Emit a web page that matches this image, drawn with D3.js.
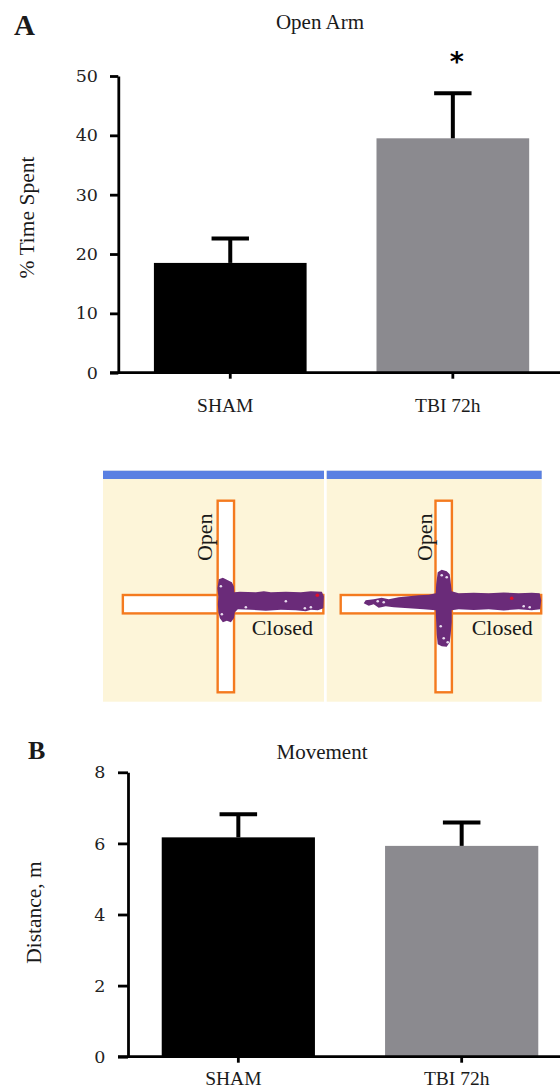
<!DOCTYPE html>
<html>
<head>
<meta charset="utf-8">
<script src="https://cdn.jsdelivr.net/npm/d3@7"></script>
<style>
  body { margin: 0; background: #fff; }
  svg { display: block; }
  .word { font-family: "Liberation Serif", "Times New Roman", serif; fill: #1a1a1a; }
  .num { font-family: "DejaVu Serif", serif; fill: #222; }
</style>
</head>
<body>
<svg id="fig" width="560" height="1091"></svg>
<script>
// ---- data ----
const groups = ["SHAM", "TBI 72h"];
const barColors = ["#000000", "#8b8a8f"];

const openArmMean = [18.5, 39.5];
const openArmSem = [4.1, 7.6];
const openArmTicks = [0, 10, 20, 30, 40, 50];

const distanceMean = [6.17, 5.93];
const distanceSem = [0.65, 0.66];
const distanceTicks = [0, 2, 4, 6, 8];

// maze arms (maze units, centre of the cross = 0, y grows downward)
const openArmBox = { x: [-8.2, 8.2], y: [-103.5, 88.1] };
const closedArmBox = { x: [-103, 97.5], y: [-9.2, 9.2] };

// tracked positions outlined as polygons (maze units)
const shamTrack = [[-7,-25],[-3,-26.5],[2,-24],[6,-22],[8,-18],[8.5,-12],[14,-12.5],[30,-12],[38,-13],[45,-12],[60,-12.5],
  [75,-12],[85,-13],[96,-12.5],[98,-8],[97.5,4],[92,6],[85,5.5],[80,7],[70,6],[55,5.5],[40,6.5],[25,5.5],[12,5],
  [9,8],[8,14],[5,18],[1,16.5],[-3,18],[-6,14],[-7.5,8],[-8,0],[-7.5,-8],[-8.5,-16],[-7,-25]];
const tbiTrack = [[-6,-32],[-2,-34.5],[3,-33],[6,-30],[7,-22],[8,-13],[15,-11],[30,-11.5],[45,-11],[60,-11.8],[75,-11],
  [88,-11.5],[96,-11],[97.5,-4],[96.5,5],[88,6],[75,5],[60,6.2],[45,5],[30,5.8],[15,5],[8,6],[8,18],[7,30],[6,38],
  [3,42.5],[-2,42],[-6,40],[-7,30],[-7.5,18],[-8,6],[-20,5],[-35,4],[-50,3],[-58,2],[-65,3.5],[-70,0],[-75,1.5],
  [-80,-1],[-78,-4],[-70,-5],[-62,-6.5],[-55,-5],[-45,-7],[-35,-8],[-25,-9],[-15,-9.5],[-8,-11],[-7.5,-20],[-6,-32]];
const shamSpecks = [[-5,-18],[20,3],[85,3],[79,4],[60,-3],[-4,10]];
const tbiSpecks = [[-2,-29],[3,-27],[0,34],[4,38],[-60,-2],[-66,-3],[80,2],[86,3],[-3,22]];
const shamRed = [91.5, -9];
const tbiRed = [68, -6];

const svg = d3.select("#fig");

function barPanel(cfg) {
  const g = svg.append("g");
  const y = d3.scaleLinear().domain([0, cfg.ticks[cfg.ticks.length - 1]]).range([cfg.bottom, cfg.top]);
  const x = d3.scaleBand().domain(groups).range([cfg.left, cfg.right])
    .paddingInner(0.314).paddingOuter(cfg.outer);

  // bars
  g.selectAll("rect.bar").data(groups).enter().append("rect")
    .attr("class", "bar")
    .attr("x", d => x(d))
    .attr("width", x.bandwidth())
    .attr("y", (d, i) => y(cfg.mean[i]))
    .attr("height", (d, i) => y(0) - y(cfg.mean[i]))
    .attr("fill", (d, i) => barColors[i]);

  // error bars (upper only)
  const capW = x.bandwidth() * 0.245;
  const eb = g.selectAll("g.err").data(groups).enter().append("g").attr("class", "err")
    .attr("stroke", "#000").attr("stroke-width", 4);
  eb.append("line")
    .attr("x1", d => x(d) + x.bandwidth() / 2).attr("x2", d => x(d) + x.bandwidth() / 2)
    .attr("y1", (d, i) => y(cfg.mean[i])).attr("y2", (d, i) => y(cfg.mean[i] + cfg.sem[i]));
  eb.append("line")
    .attr("x1", d => x(d) + x.bandwidth() / 2 - capW / 2).attr("x2", d => x(d) + x.bandwidth() / 2 + capW / 2)
    .attr("y1", (d, i) => y(cfg.mean[i] + cfg.sem[i])).attr("y2", (d, i) => y(cfg.mean[i] + cfg.sem[i]));

  // y axis
  const ya = g.append("g").attr("transform", `translate(${cfg.left},0)`)
    .call(d3.axisLeft(y).tickValues(cfg.ticks).tickSize(cfg.tick).tickSizeOuter(0).tickPadding(cfg.pad));
  ya.select(".domain").attr("stroke-width", 2.8);
  ya.selectAll(".tick line").attr("stroke-width", 2.8);
  ya.selectAll(".tick text").attr("class", "num").attr("font-size", 17.5).attr("fill", "#222");

  // x axis
  const xa = g.append("g").attr("transform", `translate(0,${y(0)})`)
    .call(d3.axisBottom(x).tickSize(6));
  xa.select(".domain").remove();
  xa.append("line").attr("x1", cfg.left - cfg.tick).attr("x2", 560).attr("stroke", "#000").attr("stroke-width", 2.8);
  xa.selectAll(".tick line").attr("stroke-width", 2.8);
  xa.selectAll(".tick text").attr("class", "word").attr("font-size", 19.5)
    .attr("y", cfg.labelY).attr("dy", 0).attr("dx", -5).attr("fill", "#1a1a1a");

  // titles
  g.append("text").attr("class", "word").attr("x", cfg.titleX).attr("y", cfg.titleY)
    .attr("text-anchor", "middle").attr("font-size", 21).text(cfg.title);
  g.append("text").attr("class", "word").attr("x", cfg.letterX).attr("y", cfg.letterY)
    .attr("font-size", cfg.letterSize).attr("font-weight", "bold").attr("fill", "#000").text(cfg.letter);
  g.append("text").attr("class", "word")
    .attr("transform", `translate(${cfg.ylabX},${cfg.ylabY}) rotate(-90)`)
    .attr("text-anchor", "middle").attr("font-size", 21.5).text(cfg.ylabel);
  return { x, y, g };
}

const A = barPanel({
  top: 76, bottom: 372.7, left: 118.3, right: 564.8, outer: 0.16, tick: 8.3, pad: 12,
  ticks: openArmTicks, mean: openArmMean, sem: openArmSem, labelY: 39,
  title: "Open Arm", titleX: 320, titleY: 28.5,
  letter: "A", letterX: 14, letterY: 35, letterSize: 29,
  ylabel: "% Time Spent", ylabX: 33.5, ylabY: 217.5
});
// significance star over TBI
A.g.append("text")
  .attr("x", A.x("TBI 72h") + A.x.bandwidth() / 2 + 4)
  .attr("y", A.y(openArmMean[1] + openArmSem[1]) - 22)
  .attr("text-anchor", "middle").attr("font-family", "DejaVu Sans").attr("font-weight", "bold")
  .attr("font-size", 27).attr("fill", "#000").text("*");

barPanel({
  top: 772.3, bottom: 1056.7, left: 128, right: 572, outer: 0.151, tick: 10, pad: 12.5,
  ticks: distanceTicks, mean: distanceMean, sem: distanceSem, labelY: 28.3,
  title: "Movement", titleX: 322, titleY: 759.3,
  letter: "B", letterX: 28, letterY: 759, letterSize: 26,
  ylabel: "Distance, m", ylabX: 41, ylabY: 912.5
});

// ---- elevated plus maze tracking images ----
const mazePanels = [
  { x0: 103, x1: 324, cx: 225.85, track: shamTrack, specks: shamSpecks, red: shamRed, openDx: -14.2, closedDx: 26 },
  { x0: 326.7, x1: 541.7, cx: 443.7, track: tbiTrack, specks: tbiSpecks, red: tbiRed, openDx: -12, closedDx: 28 }
];
const mazeTop = 470.7, mazeBottom = 701.7, mazeCy = 604.2;

mazePanels.forEach(p => {
  const mx = d3.scaleLinear().domain([-100, 100]).range([p.cx - 100, p.cx + 100]);
  const my = d3.scaleLinear().domain([-100, 100]).range([mazeCy - 100, mazeCy + 100]);
  const g = svg.append("g");
  g.append("rect").attr("x", p.x0).attr("y", mazeTop).attr("width", p.x1 - p.x0)
    .attr("height", mazeBottom - mazeTop).attr("fill", "#fdf5d9");
  g.append("rect").attr("x", p.x0).attr("y", mazeTop).attr("width", p.x1 - p.x0)
    .attr("height", 8.3).attr("fill", "#5a80e2");

  [closedArmBox, openArmBox].forEach(b => {
    g.append("rect")
      .attr("x", mx(b.x[0])).attr("y", my(b.y[0]))
      .attr("width", mx(b.x[1]) - mx(b.x[0])).attr("height", my(b.y[1]) - my(b.y[0]))
      .attr("fill", "#fff").attr("stroke", "#f47a1f").attr("stroke-width", 2.4);
  });
  // white centre (arms overlap)
  g.append("rect")
    .attr("x", mx(openArmBox.x[0]) + 1.2).attr("y", my(closedArmBox.y[0]) + 1.2)
    .attr("width", mx(openArmBox.x[1]) - mx(openArmBox.x[0]) - 2.4)
    .attr("height", my(closedArmBox.y[1]) - my(closedArmBox.y[0]) - 2.4).attr("fill", "#fff");

  const line = d3.line().x(d => mx(d[0])).y(d => my(d[1])).curve(d3.curveLinearClosed);
  g.append("path").attr("d", line(p.track)).attr("fill", "#6a2b79");
  g.selectAll("circle.speck").data(p.specks).enter().append("circle")
    .attr("cx", d => mx(d[0])).attr("cy", d => my(d[1])).attr("r", 1.3).attr("fill", "#e8dcef");
  g.append("circle").attr("cx", mx(p.red[0])).attr("cy", my(p.red[1])).attr("r", 1.8).attr("fill", "#e0102a");

  g.append("text").attr("class", "word")
    .attr("transform", `translate(${p.cx + p.openDx},${mazeCy - 67}) rotate(-90)`)
    .attr("text-anchor", "middle").attr("font-size", 22).attr("fill", "#111").text("Open");
  g.append("text").attr("class", "word")
    .attr("x", p.cx + p.closedDx).attr("y", mazeCy + 30.8)
    .attr("font-size", 22).attr("fill", "#111").text("Closed");
});
</script>
</body>
</html>
